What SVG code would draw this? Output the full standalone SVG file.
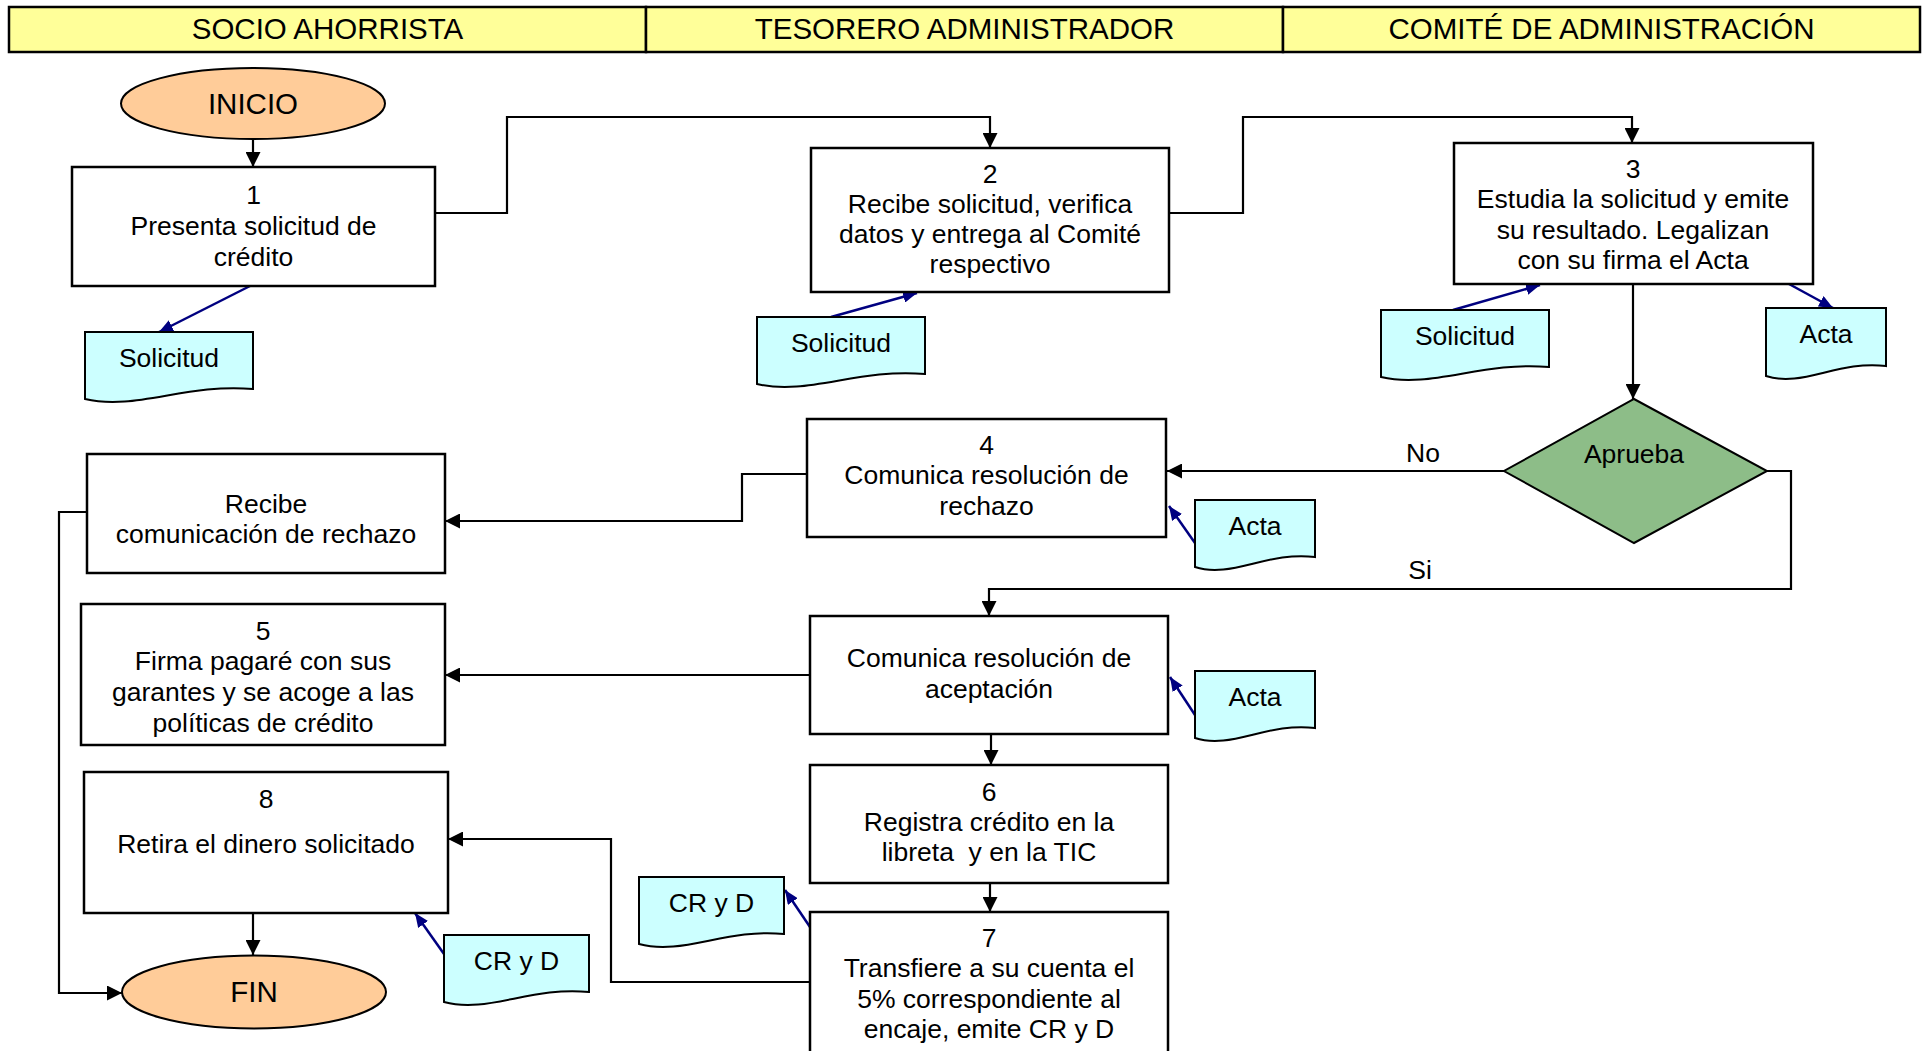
<svg xmlns="http://www.w3.org/2000/svg" width="1928" height="1051" viewBox="0 0 1928 1051">
  <style>
    .lane { fill: #FFFF99; stroke: #000; stroke-width: 2.5; }
    .lane-txt { font-family: "Liberation Sans", Arial, sans-serif; font-size: 29.5px; fill: #000; text-anchor: middle; }
    .box { fill: #fff; stroke: #000; stroke-width: 2.5; }
    .term { fill: #FFCC99; stroke: #000; stroke-width: 2; }
    .dec { fill: #8DBD88; stroke: #000; stroke-width: 2; }
    .doc { fill: #CCFFFF; stroke: #000; stroke-width: 2; }
    .txt { font-family: "Liberation Sans", Arial, sans-serif; font-size: 26.5px; fill: #000; text-anchor: middle; }
    .big { font-size: 29.5px; }
    .flow { fill: none; stroke: #000; stroke-width: 2.2; marker-end: url(#ah); }
    .docflow { fill: none; stroke: #000080; stroke-width: 2.5; marker-end: url(#bh); }
  </style>
  <defs>
    <marker id="ah" markerUnits="userSpaceOnUse" markerWidth="15" markerHeight="15" refX="15" refY="7.5" orient="auto">
      <path d="M0,0 L15,7.5 L0,15 Z" fill="#000"/>
    </marker>
    <marker id="bh" markerUnits="userSpaceOnUse" markerWidth="14" markerHeight="12" refX="14" refY="6" orient="auto">
      <path d="M0,0 L14,6 L0,12 Z" fill="#000080"/>
    </marker>
  </defs>

  <rect width="1928" height="1051" fill="#fff"/>

  <!-- swimlane headers -->
  <g id="lanes">
    <rect class="lane" x="9" y="7" width="637" height="45"/>
    <rect class="lane" x="646" y="7" width="637" height="45"/>
    <rect class="lane" x="1283" y="7" width="637" height="45"/>
    <text class="lane-txt" x="327.5" y="39">SOCIO AHORRISTA</text>
    <text class="lane-txt" x="964.5" y="39">TESORERO ADMINISTRADOR</text>
    <text class="lane-txt" x="1601.5" y="39">COMITÉ DE ADMINISTRACIÓN</text>
  </g>

  <!-- connectors -->
  <g id="connectors">
    <line class="flow" x1="253" y1="139" x2="253" y2="167"/>
    <polyline class="flow" points="435,213 507,213 507,117 990,117 990,148"/>
    <polyline class="flow" points="1169,213 1243,213 1243,117 1632,117 1632,143"/>
    <line class="flow" x1="1633" y1="284" x2="1633" y2="399"/>
    <line class="flow" x1="1504" y1="471" x2="1167" y2="471"/>
    <polyline class="flow" points="1767,471 1791,471 1791,589 989,589 989,616"/>
    <polyline class="flow" points="807,474 742,474 742,521 445,521"/>
    <line class="flow" x1="810" y1="675" x2="445" y2="675"/>
    <line class="flow" x1="991" y1="734" x2="991" y2="765"/>
    <line class="flow" x1="990" y1="883" x2="990" y2="912"/>
    <polyline class="flow" points="810,982 611,982 611,839 448,839"/>
    <polyline class="flow" points="87,512 59,512 59,993 122,993"/>
    <line class="flow" x1="253" y1="913" x2="253" y2="955"/>
    <text class="txt" x="1423" y="462">No</text>
    <text class="txt" x="1420" y="579">Si</text>

    <!-- document links -->
    <line class="docflow" x1="250" y1="286" x2="159" y2="332"/>
    <line class="docflow" x1="831" y1="317" x2="917" y2="293"/>
    <line class="docflow" x1="1453" y1="310" x2="1540" y2="285"/>
    <line class="docflow" x1="1789" y1="284" x2="1833" y2="308"/>
    <line class="docflow" x1="1195" y1="543" x2="1169" y2="506"/>
    <line class="docflow" x1="1195" y1="715" x2="1170" y2="677"/>
    <line class="docflow" x1="810" y1="927" x2="785" y2="890"/>
    <line class="docflow" x1="444" y1="954" x2="415" y2="913"/>
  </g>

  <!-- terminators -->
  <g id="inicio">
    <ellipse class="term" cx="253" cy="103.5" rx="132" ry="35.5"/>
    <text class="txt big" x="253" y="114">INICIO</text>
  </g>
  <g id="fin">
    <ellipse class="term" cx="254" cy="992" rx="132" ry="36.5"/>
    <text class="txt big" x="254" y="1002">FIN</text>
  </g>

  <!-- process steps -->
  <g id="paso1">
    <rect class="box" x="72" y="167" width="363" height="119"/>
    <text class="txt" x="253.5" y="204">1</text>
    <text class="txt" x="253.5" y="235">Presenta solicitud de</text>
    <text class="txt" x="253.5" y="266">crédito</text>
  </g>
  <g id="paso2">
    <rect class="box" x="811" y="148" width="358" height="144"/>
    <text class="txt" x="990" y="183">2</text>
    <text class="txt" x="990" y="213">Recibe solicitud, verifica</text>
    <text class="txt" x="990" y="243">datos y entrega al Comité</text>
    <text class="txt" x="990" y="273">respectivo</text>
  </g>
  <g id="paso3">
    <rect class="box" x="1454" y="143" width="359" height="141"/>
    <text class="txt" x="1633" y="178">3</text>
    <text class="txt" x="1633" y="208">Estudia la solicitud y emite</text>
    <text class="txt" x="1633" y="239">su resultado. Legalizan</text>
    <text class="txt" x="1633" y="269">con su firma el Acta</text>
  </g>
  <g id="aprueba">
    <polygon class="dec" points="1634,399 1767,471 1634,543 1504,471"/>
    <text class="txt" x="1634" y="463">Aprueba</text>
  </g>
  <g id="paso4">
    <rect class="box" x="807" y="419" width="359" height="118"/>
    <text class="txt" x="986.5" y="454">4</text>
    <text class="txt" x="986.5" y="484">Comunica resolución de</text>
    <text class="txt" x="986.5" y="515">rechazo</text>
  </g>
  <g id="recibe-rechazo">
    <rect class="box" x="87" y="454" width="358" height="119"/>
    <text class="txt" x="266" y="513">Recibe</text>
    <text class="txt" x="266" y="543">comunicación de rechazo</text>
  </g>
  <g id="aceptacion">
    <rect class="box" x="810" y="616" width="358" height="118"/>
    <text class="txt" x="989" y="667">Comunica resolución de</text>
    <text class="txt" x="989" y="698">aceptación</text>
  </g>
  <g id="paso5">
    <rect class="box" x="81" y="604" width="364" height="141"/>
    <text class="txt" x="263" y="640">5</text>
    <text class="txt" x="263" y="670">Firma pagaré con sus</text>
    <text class="txt" x="263" y="701">garantes y se acoge a las</text>
    <text class="txt" x="263" y="732">políticas de crédito</text>
  </g>
  <g id="paso6">
    <rect class="box" x="810" y="765" width="358" height="118"/>
    <text class="txt" x="989" y="801">6</text>
    <text class="txt" x="989" y="831">Registra crédito en la</text>
    <text class="txt" x="989" y="861" xml:space="preserve">libreta  y en la TIC</text>
  </g>
  <g id="paso7">
    <rect class="box" x="810" y="912" width="358" height="150"/>
    <text class="txt" x="989" y="947">7</text>
    <text class="txt" x="989" y="977">Transfiere a su cuenta el</text>
    <text class="txt" x="989" y="1008">5% correspondiente al</text>
    <text class="txt" x="989" y="1038">encaje, emite CR y D</text>
  </g>
  <g id="paso8">
    <rect class="box" x="84" y="772" width="364" height="141"/>
    <text class="txt" x="266" y="808">8</text>
    <text class="txt" x="266" y="853">Retira el dinero solicitado</text>
  </g>

  <!-- documents -->
  <g id="doc-solicitud-1">
    <path class="doc" d="M85,332 H253 V389 C185.8,383 135.4,411 85,399 Z"/>
    <text class="txt" x="169" y="367">Solicitud</text>
  </g>
  <g id="doc-solicitud-2">
    <path class="doc" d="M757,317 H925 V374 C857.8,368 807.4,396 757,384 Z"/>
    <text class="txt" x="841" y="352">Solicitud</text>
  </g>
  <g id="doc-solicitud-3">
    <path class="doc" d="M1381,310 H1549 V367 C1481.8,361 1431.4,389 1381,377 Z"/>
    <text class="txt" x="1465" y="345">Solicitud</text>
  </g>
  <g id="doc-acta-1">
    <path class="doc" d="M1766,308 H1886 V366 C1838,360 1802,388 1766,376 Z"/>
    <text class="txt" x="1826" y="343">Acta</text>
  </g>
  <g id="doc-acta-2">
    <path class="doc" d="M1195,500 H1315 V557 C1267,551 1231,579 1195,567 Z"/>
    <text class="txt" x="1255" y="535">Acta</text>
  </g>
  <g id="doc-acta-3">
    <path class="doc" d="M1195,671 H1315 V728 C1267,722 1231,750 1195,738 Z"/>
    <text class="txt" x="1255" y="706">Acta</text>
  </g>
  <g id="doc-cryd-1">
    <path class="doc" d="M639,877 H784 V934 C726,928 682.5,956 639,944 Z"/>
    <text class="txt" x="711.5" y="912">CR y D</text>
  </g>
  <g id="doc-cryd-2">
    <path class="doc" d="M444,935 H589 V992 C531,986 487.5,1014 444,1002 Z"/>
    <text class="txt" x="516.5" y="970">CR y D</text>
  </g>
</svg>
